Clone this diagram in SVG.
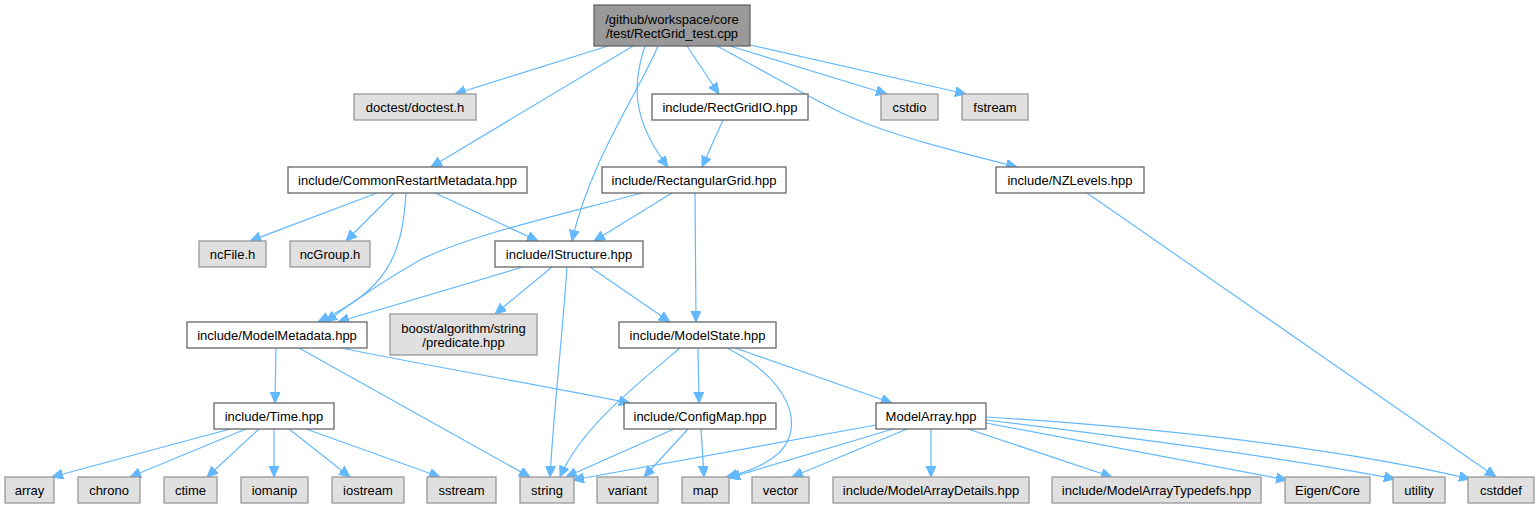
<svg xmlns="http://www.w3.org/2000/svg" width="1538" height="508" viewBox="0 0 1538 508">
<defs>
<style>
.n rect{fill:#ffffff;stroke:#666666;stroke-width:1.3}
.g rect{fill:#e0e0e0;stroke:#999999;stroke-width:1.3}
.top rect{fill:#999999;stroke:#666666;stroke-width:1.3}
text{font-family:"Liberation Sans",Arial,Helvetica,sans-serif;font-size:13px;fill:#000;text-anchor:middle}
#edges path{fill:none;stroke:#63b8ff;stroke-width:1.2;marker-end:url(#a)}
</style>
<marker id="a" markerWidth="12" markerHeight="11" refX="11" refY="5" orient="auto" markerUnits="userSpaceOnUse">
<path d="M0,0 L11,5 L0,10 z" fill="#63b8ff" stroke="#63b8ff" stroke-width="1"/>
</marker>
</defs>
<rect width="1538" height="508" fill="#ffffff"/>
<g id="edges">
<path d="M608,46 L455,94"/>
<path d="M633,46 L431,167"/>
<path d="M658,46 C640,90 590,160 572,241"/>
<path d="M645,46 C632,85 632,120 668,167"/>
<path d="M687,46 L719,94"/>
<path d="M717,46 C790,85 830,110 870,125 C920,143 970,155 1017,167"/>
<path d="M730,46 L887,94"/>
<path d="M750,45 L966,94"/>
<path d="M723,120 L702,167"/>
<path d="M377,193 L250,241"/>
<path d="M394,193 L346,241"/>
<path d="M406,193 C402,260 385,290 318,322"/>
<path d="M435,193 L538,241"/>
<path d="M672,193 L594,241"/>
<path d="M642,193 C560,215 470,235 420,260 C385,280 355,300 326,322"/>
<path d="M695,193 L696,322"/>
<path d="M523,267 L338,322"/>
<path d="M552,267 L495,314"/>
<path d="M590,267 L670,322"/>
<path d="M567,267 C562,340 553,420 550,477"/>
<path d="M276,348 L275,403"/>
<path d="M299,348 L530,477"/>
<path d="M341,348 C440,368 540,385 630,403"/>
<path d="M680,348 C630,390 580,430 560,477"/>
<path d="M698,348 L699,403"/>
<path d="M727,348 C790,380 805,425 780,452 C765,466 745,473 726,477"/>
<path d="M735,348 L892,403"/>
<path d="M674,429 L566,477"/>
<path d="M688,429 L644,477"/>
<path d="M701,429 L704,477"/>
<path d="M876,425 L573,480"/>
<path d="M893,429 L729,478"/>
<path d="M907,429 L792,477"/>
<path d="M931,429 L931,477"/>
<path d="M968,429 L1112,477"/>
<path d="M986,423 L1287,480"/>
<path d="M986,420 C1150,440 1300,460 1395,479"/>
<path d="M986,417 C1200,430 1370,455 1470,479"/>
<path d="M1087,193 L1496,477"/>
<path d="M230,429 L52,477"/>
<path d="M246,429 L130,477"/>
<path d="M259,429 L207,477"/>
<path d="M274,429 L274,477"/>
<path d="M289,429 L350,477"/>
<path d="M306,429 L440,477"/>
</g>
<g id="n-top" class="top"><rect x="594" y="5" width="156" height="41"/><text x="672" y="23.5">/github/workspace/core</text><text x="672" y="38">/test/RectGrid_test.cpp</text></g>
<g id="n-doctest" class="g"><rect x="354" y="94" width="122" height="26"/><text x="415" y="111.5">doctest/doctest.h</text></g>
<g id="n-rectgridio" class="n"><rect x="652" y="94" width="156" height="26"/><text x="730" y="111.5">include/RectGridIO.hpp</text></g>
<g id="n-cstdio" class="g"><rect x="881" y="94" width="57" height="26"/><text x="909.5" y="111.5">cstdio</text></g>
<g id="n-fstream" class="g"><rect x="962" y="94" width="66" height="26"/><text x="995" y="111.5">fstream</text></g>
<g id="n-crm" class="n"><rect x="288" y="167" width="239" height="26"/><text x="407.5" y="184.5">include/CommonRestartMetadata.hpp</text></g>
<g id="n-rectgrid" class="n"><rect x="602" y="167" width="184" height="26"/><text x="694" y="184.5">include/RectangularGrid.hpp</text></g>
<g id="n-nzlevels" class="n"><rect x="996" y="167" width="148" height="26"/><text x="1070" y="184.5">include/NZLevels.hpp</text></g>
<g id="n-ncfile" class="g"><rect x="199" y="241" width="67" height="26"/><text x="232.5" y="258.5">ncFile.h</text></g>
<g id="n-ncgroup" class="g"><rect x="290" y="241" width="80" height="26"/><text x="330" y="258.5">ncGroup.h</text></g>
<g id="n-istructure" class="n"><rect x="495" y="241" width="148" height="26"/><text x="569" y="258.5">include/IStructure.hpp</text></g>
<g id="n-modelmetadata" class="n"><rect x="187" y="322" width="180" height="26"/><text x="277" y="339.5">include/ModelMetadata.hpp</text></g>
<g id="n-boost" class="g"><rect x="390" y="314" width="147" height="41"/><text x="463.5" y="332.5">boost/algorithm/string</text><text x="463.5" y="347">/predicate.hpp</text></g>
<g id="n-modelstate" class="n"><rect x="619" y="322" width="157" height="26"/><text x="697.5" y="339.5">include/ModelState.hpp</text></g>
<g id="n-time" class="n"><rect x="214" y="403" width="120" height="26"/><text x="274" y="420.5">include/Time.hpp</text></g>
<g id="n-configmap" class="n"><rect x="624" y="403" width="152" height="26"/><text x="700" y="420.5">include/ConfigMap.hpp</text></g>
<g id="n-modelarray" class="n"><rect x="876" y="403" width="110" height="26"/><text x="931" y="420.5">ModelArray.hpp</text></g>
<g id="n-array" class="g"><rect x="5" y="477" width="49" height="26"/><text x="29.5" y="494.5">array</text></g>
<g id="n-chrono" class="g"><rect x="78" y="477" width="62" height="26"/><text x="109" y="494.5">chrono</text></g>
<g id="n-ctime" class="g"><rect x="164" y="477" width="53" height="26"/><text x="190.5" y="494.5">ctime</text></g>
<g id="n-iomanip" class="g"><rect x="241" y="477" width="67" height="26"/><text x="274.5" y="494.5">iomanip</text></g>
<g id="n-iostream" class="g"><rect x="332" y="477" width="72" height="26"/><text x="368" y="494.5">iostream</text></g>
<g id="n-sstream" class="g"><rect x="427" y="477" width="69" height="26"/><text x="461.5" y="494.5">sstream</text></g>
<g id="n-string" class="g"><rect x="520" y="477" width="54" height="26"/><text x="547" y="494.5">string</text></g>
<g id="n-variant" class="g"><rect x="597" y="477" width="61" height="26"/><text x="627.5" y="494.5">variant</text></g>
<g id="n-map" class="g"><rect x="682" y="477" width="47" height="26"/><text x="705.5" y="494.5">map</text></g>
<g id="n-vector" class="g"><rect x="752" y="477" width="57" height="26"/><text x="780.5" y="494.5">vector</text></g>
<g id="n-mad" class="g"><rect x="833" y="477" width="196" height="26"/><text x="931" y="494.5">include/ModelArrayDetails.hpp</text></g>
<g id="n-mat" class="g"><rect x="1052" y="477" width="209" height="26"/><text x="1156.5" y="494.5">include/ModelArrayTypedefs.hpp</text></g>
<g id="n-eigen" class="g"><rect x="1285" y="477" width="85" height="26"/><text x="1327.5" y="494.5">Eigen/Core</text></g>
<g id="n-utility" class="g"><rect x="1393" y="477" width="52" height="26"/><text x="1419" y="494.5">utility</text></g>
<g id="n-cstddef" class="g"><rect x="1468" y="477" width="66" height="26"/><text x="1501" y="494.5">cstddef</text></g>
</svg>
